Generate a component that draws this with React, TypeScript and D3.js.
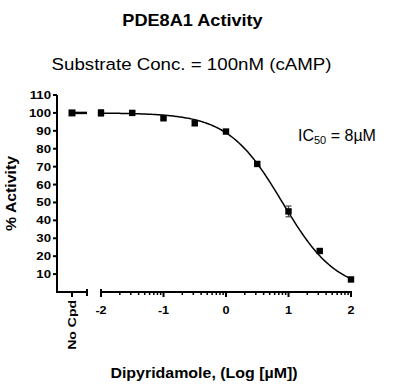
import React, { useEffect, useRef } from "react";
import * as d3 from "d3";

// measured points, x = log[µM]
const logConc = [-2, -1.5, -1, -0.5, 0, 0.5, 1, 1.5, 2];
const activity = [100, 100, 97, 94.2, 89.6, 71.5, 45, 22.9, 7];
const sem = [1.8, 0.6, 0.8, 1.2, 0.8, 0.8, 3, 1, 0.8];
const noCpdValue = 100;

// fit parameters (IC50 = 8 µM)
const fitTop = 100;
const fitBottom = 0;
const logIC50 = Math.log10(8);
const hillSlope = 1;

const yTicks = [10, 20, 30, 40, 50, 60, 70, 80, 90, 100, 110];
const xTicks = [-2, -1, 0, 1, 2];

const App = () => {
  const ref = useRef<SVGSVGElement | null>(null);

  useEffect(() => {
    const svg = d3.select(ref.current);
    svg.selectAll("*").remove();
    const font = "'Liberation Sans', Arial, sans-serif";

    // text helper; the source picture is a bit stretched sideways
    const label = (
      parent: any, tx: number, ty: number, txt: string, size: number,
      opts: { bold?: boolean; anchor?: string; sx?: number; rot?: number } = {}
    ) =>
      parent.append("text")
        .attr("transform", `translate(${tx},${ty}) rotate(${opts.rot ?? 0}) scale(${opts.sx ?? 1},1)`)
        .attr("text-anchor", opts.anchor ?? "middle")
        .attr("font-family", font)
        .attr("font-weight", opts.bold ? "bold" : "normal")
        .attr("font-size", size)
        .text(txt);

    const x = d3.scaleLinear().domain([-2, 2]).range([101, 351]);
    const y = d3.scaleLinear().domain([0, 110]).range([292, 95]);
    const axisX = 57;
    const noCpdX = 72;
    const base = y(0);

    // titles
    label(svg, 192.5, 26, "PDE8A1 Activity", 16.5, { bold: true, sx: 1.1 });
    label(svg, 191.5, 70, "Substrate Conc. = 100nM (cAMP)", 17, { sx: 1.1 });

    // y axis
    const g = svg.append("g").attr("stroke", "#000").attr("stroke-width", 2).attr("fill", "none");
    g.append("line").attr("x1", axisX).attr("x2", axisX).attr("y1", y(110)).attr("y2", base);
    yTicks.forEach((t) => {
      g.append("line").attr("x1", axisX - 4).attr("x2", axisX).attr("y1", y(t)).attr("y2", y(t));
    });
    yTicks.forEach((t) => {
      label(svg, axisX - 6, y(t) + 4, String(t), 11.5, { bold: true, anchor: "end", sx: 1.15 });
    });

    // x axis: No Cpd segment
    g.append("line").attr("x1", axisX - 1).attr("x2", 87).attr("y1", base).attr("y2", base);
    g.append("line").attr("x1", 87).attr("x2", 87).attr("y1", base - 3).attr("y2", base + 4);
    g.append("line").attr("x1", noCpdX).attr("x2", noCpdX).attr("y1", base).attr("y2", base + 5);

    // x axis: log segment
    g.append("line").attr("x1", x(-2)).attr("x2", x(2) + 1).attr("y1", base).attr("y2", base);
    g.append("line").attr("x1", x(-2)).attr("x2", x(-2)).attr("y1", base - 3).attr("y2", base + 5);
    xTicks.forEach((t) => {
      g.append("line").attr("x1", x(t)).attr("x2", x(t)).attr("y1", base).attr("y2", base + 5);
    });
    const minor: number[] = [];
    for (let n = -2; n < 2; n++) {
      for (let k = 2; k <= 9; k++) minor.push(n + Math.log10(k));
    }
    minor.forEach((m) => {
      g.append("line").attr("x1", x(m)).attr("x2", x(m)).attr("y1", base).attr("y2", base + 3)
        .attr("stroke-width", 1.5);
    });
    xTicks.forEach((t) => {
      label(svg, x(t), 314, String(t), 11.5, { bold: true, sx: 1.1 });
    });
    label(svg, noCpdX + 4, 300, "No Cpd", 11.5, { bold: true, anchor: "end", rot: -90, sx: 1.22 });

    // axis labels
    label(svg, 16, (y(110) + base) / 2, "% Activity", 14, { bold: true, rot: -90, sx: 1.13 });
    label(svg, 204, 378, "Dipyridamole, (Log [µM])", 14, { bold: true, sx: 1.14 });

    // fitted curve
    const fit = (lx: number) => fitBottom + (fitTop - fitBottom) / (1 + Math.pow(10, (lx - logIC50) * hillSlope));
    const curvePts = d3.range(-2, 2.0001, 0.02);
    svg.append("path").datum(curvePts)
      .attr("d", d3.line<number>().x((d) => x(d)).y((d) => y(fit(d))))
      .attr("fill", "none").attr("stroke", "#000").attr("stroke-width", 1.5);

    // No Cpd point
    svg.append("line").attr("x1", noCpdX).attr("x2", 87).attr("y1", y(noCpdValue)).attr("y2", y(noCpdValue))
      .attr("stroke", "#000").attr("stroke-width", 2.5);
    svg.append("rect").attr("x", noCpdX - 3.5).attr("y", y(noCpdValue) - 3.5)
      .attr("width", 7).attr("height", 7).attr("fill", "#000");

    // error bars
    const eb = svg.append("g").attr("stroke", "#444").attr("stroke-width", 1.2);
    logConc.forEach((lx, i) => {
      const cx = x(lx);
      const t = y(activity[i] + sem[i]);
      const b = y(activity[i] - sem[i]);
      eb.append("line").attr("x1", cx).attr("x2", cx).attr("y1", t).attr("y2", b);
      eb.append("line").attr("x1", cx - 3).attr("x2", cx + 3).attr("y1", t).attr("y2", t);
      eb.append("line").attr("x1", cx - 3).attr("x2", cx + 3).attr("y1", b).attr("y2", b);
    });

    // points
    svg.append("g").selectAll("rect").data(logConc).join("rect")
      .attr("x", (d) => x(d) - 3.2).attr("y", (_, i) => y(activity[i]) - 3.2)
      .attr("width", 6.4).attr("height", 6.4).attr("fill", "#000");

    // IC50 annotation
    const ic = svg.append("text").attr("x", 298).attr("y", 141)
      .attr("font-family", font).attr("font-size", 16);
    ic.append("tspan").text("IC");
    ic.append("tspan").attr("font-size", 11).attr("dy", 3).text("50");
    ic.append("tspan").attr("dy", -3).text(" = 8µM");
  }, []);

  return (
    <svg ref={ref} width={401} height={392} style={{ position: "absolute", left: 0, top: 0, background: "#fff" }} />
  );
};

export default App;
